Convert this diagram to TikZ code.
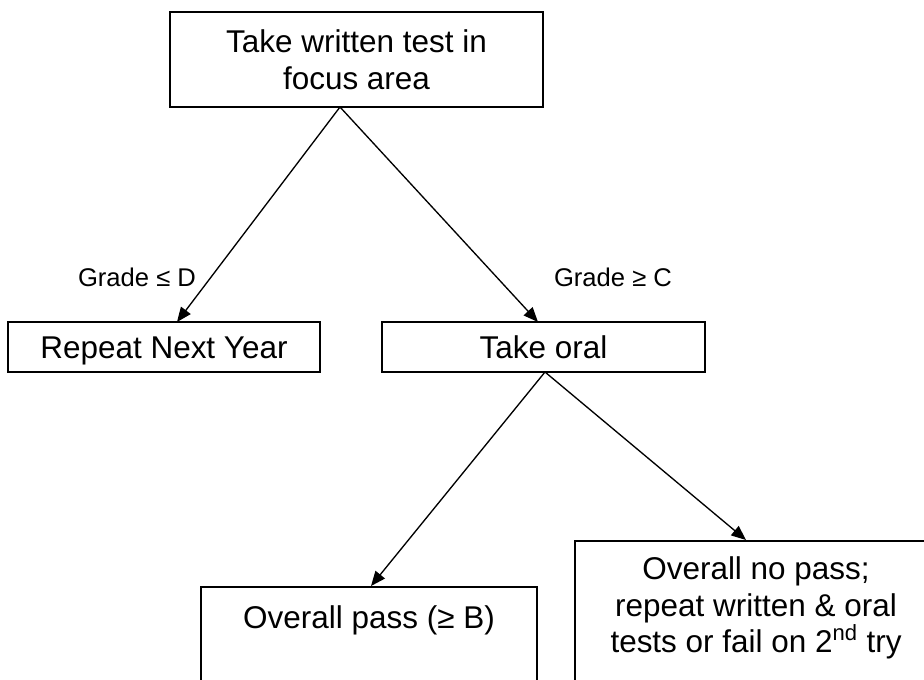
\documentclass[tikz,border=0pt]{standalone}
\usepackage{fontspec}
\setmainfont{Liberation Sans}
\usetikzlibrary{arrows.meta}

\begin{document}
\begin{tikzpicture}[x=0.75pt,y=-0.75pt]
	\tikzstyle{box} = [draw, line width=1.25pt, shape=rectangle, inner sep=0pt]
	\tikzstyle{txt} = [align=center, inner sep=0pt, font=\fontsize{23.6}{27.4}\selectfont]
	\tikzstyle{oneline} = [text height=17pt, text depth=0pt]
	\tikzstyle{lbl} = [inner sep=0pt, font=\fontsize{19.2}{22}\selectfont]
	\tikzstyle{arr} = [-{Triangle[length=11pt,width=9pt]}, line width=1pt]
	\path[use as bounding box, clip] (0,0) rectangle (924,679);
	\fill[white] (0,0) rectangle (924,679);

	\node[box, txt, minimum width=279.75pt, minimum height=71.25pt] (written) at (356.5,59.5) {Take written test in\\focus area};

	\node[box, txt, oneline, minimum width=234pt, minimum height=37.5pt] (repeat) at (164,347) {Repeat Next Year};
	\node[box, txt, oneline, minimum width=242.25pt, minimum height=37.5pt] (oral) at (543.5,347) {Take oral};

	\node[box, minimum width=252pt, minimum height=110pt, anchor=north] (pass) at (369,586) {};
	\node[txt, oneline] (passtext) at (369,617) {Overall pass (≥ B)};
	\node[box, minimum width=273pt, minimum height=130pt, anchor=north west] (nopass) at (574,540) {};
	\node[txt] (nopasstext) at (756,608) {Overall no pass;\\repeat written \& oral\\tests or fail on 2\textsuperscript{nd} try};

	\node[lbl] (low) at (137,277) {Grade ≤ D};
	\node[lbl] (high) at (613,277) {Grade ≥ C};

	\coordinate (fork1) at (340,107);
	\coordinate (fork2) at (545,372);
	\coordinate (tip1) at (177,322);
	\coordinate (tip2) at (538,322);
	\coordinate (tip3) at (371,586);
	\coordinate (tip4) at (746,540);

	\draw[arr] (fork1) -- (tip1);
	\draw[arr] (fork1) -- (tip2);
	\draw[arr] (fork2) -- (tip3);
	\draw[arr] (fork2) -- (tip4);
\end{tikzpicture}
\end{document}
